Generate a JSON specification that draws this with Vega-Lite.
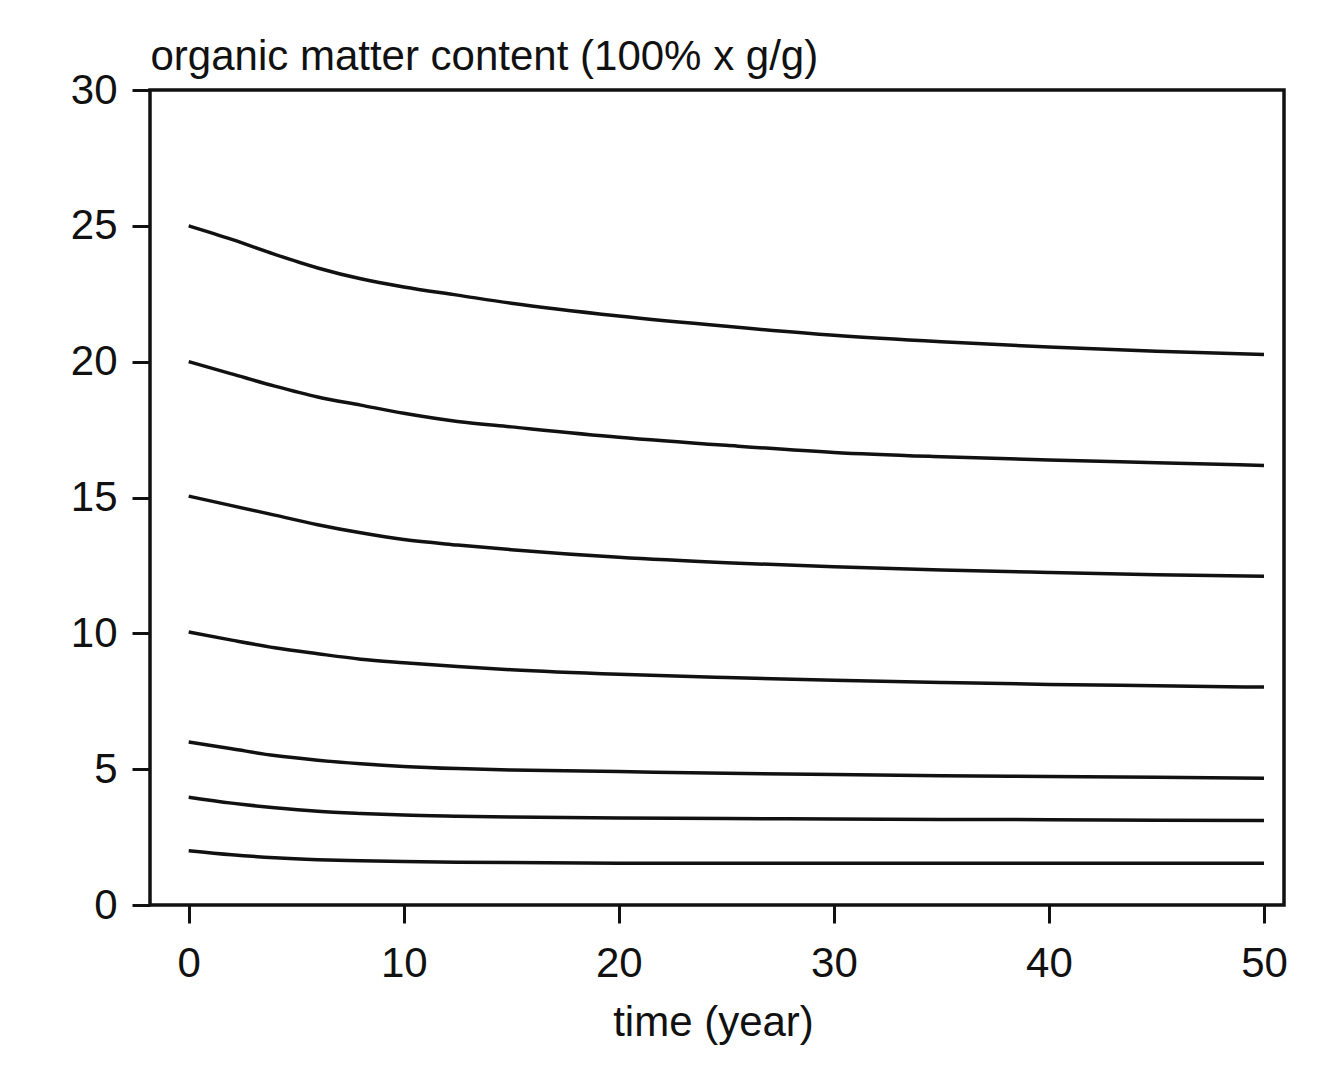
{
  "$schema": "https://vega.github.io/schema/vega-lite/v6.json",
  "width": 1134,
  "height": 815,
  "autosize": {"type": "none"},
  "padding": {"left": 150, "top": 90, "right": 56, "bottom": 169},
  "background": "white",
  "config": {
    "font": "Liberation Sans",
    "view": {"stroke": "#111", "strokeWidth": 3.5, "fill": "white"},
    "axis": {"grid": false, "domain": false, "tickColor": "#111", "tickWidth": 3, "labelColor": "#111", "titleColor": "#111", "labelFont": "Liberation Sans", "titleFont": "Liberation Sans", "labelFontSize": 42, "titleFontSize": 42, "titleFontWeight": "normal"}
  },
  "data": {"values": [
    {"s": "a", "t": 0, "v": 25.0}, {"s": "a", "t": 2, "v": 24.5}, {"s": "a", "t": 4, "v": 23.95}, {"s": "a", "t": 6, "v": 23.45}, {"s": "a", "t": 8, "v": 23.05}, {"s": "a", "t": 10, "v": 22.75}, {"s": "a", "t": 12.5, "v": 22.45}, {"s": "a", "t": 15, "v": 22.15}, {"s": "a", "t": 20, "v": 21.68}, {"s": "a", "t": 25, "v": 21.3}, {"s": "a", "t": 30, "v": 20.97}, {"s": "a", "t": 35, "v": 20.73}, {"s": "a", "t": 40, "v": 20.54}, {"s": "a", "t": 45, "v": 20.38}, {"s": "a", "t": 50, "v": 20.26},
    {"s": "b", "t": 0, "v": 20.0}, {"s": "b", "t": 2, "v": 19.55}, {"s": "b", "t": 4, "v": 19.1}, {"s": "b", "t": 6, "v": 18.7}, {"s": "b", "t": 8, "v": 18.4}, {"s": "b", "t": 10, "v": 18.1}, {"s": "b", "t": 12.5, "v": 17.8}, {"s": "b", "t": 15, "v": 17.6}, {"s": "b", "t": 20, "v": 17.22}, {"s": "b", "t": 25, "v": 16.92}, {"s": "b", "t": 30, "v": 16.66}, {"s": "b", "t": 35, "v": 16.5}, {"s": "b", "t": 40, "v": 16.38}, {"s": "b", "t": 45, "v": 16.28}, {"s": "b", "t": 50, "v": 16.18},
    {"s": "c", "t": 0, "v": 15.05}, {"s": "c", "t": 2, "v": 14.7}, {"s": "c", "t": 4, "v": 14.35}, {"s": "c", "t": 6, "v": 14.0}, {"s": "c", "t": 8, "v": 13.7}, {"s": "c", "t": 10, "v": 13.45}, {"s": "c", "t": 12.5, "v": 13.25}, {"s": "c", "t": 15, "v": 13.08}, {"s": "c", "t": 20, "v": 12.8}, {"s": "c", "t": 25, "v": 12.6}, {"s": "c", "t": 30, "v": 12.45}, {"s": "c", "t": 35, "v": 12.33}, {"s": "c", "t": 40, "v": 12.24}, {"s": "c", "t": 45, "v": 12.16}, {"s": "c", "t": 50, "v": 12.1},
    {"s": "d", "t": 0, "v": 10.05}, {"s": "d", "t": 2, "v": 9.75}, {"s": "d", "t": 4, "v": 9.47}, {"s": "d", "t": 6, "v": 9.25}, {"s": "d", "t": 8, "v": 9.05}, {"s": "d", "t": 10, "v": 8.92}, {"s": "d", "t": 12.5, "v": 8.78}, {"s": "d", "t": 15, "v": 8.66}, {"s": "d", "t": 20, "v": 8.49}, {"s": "d", "t": 25, "v": 8.37}, {"s": "d", "t": 30, "v": 8.27}, {"s": "d", "t": 35, "v": 8.19}, {"s": "d", "t": 40, "v": 8.12}, {"s": "d", "t": 45, "v": 8.07}, {"s": "d", "t": 50, "v": 8.02},
    {"s": "e", "t": 0, "v": 6.0}, {"s": "e", "t": 2, "v": 5.75}, {"s": "e", "t": 4, "v": 5.5}, {"s": "e", "t": 6, "v": 5.33}, {"s": "e", "t": 8, "v": 5.2}, {"s": "e", "t": 10, "v": 5.1}, {"s": "e", "t": 12.5, "v": 5.02}, {"s": "e", "t": 15, "v": 4.97}, {"s": "e", "t": 20, "v": 4.91}, {"s": "e", "t": 25, "v": 4.85}, {"s": "e", "t": 30, "v": 4.8}, {"s": "e", "t": 35, "v": 4.76}, {"s": "e", "t": 40, "v": 4.73}, {"s": "e", "t": 45, "v": 4.7}, {"s": "e", "t": 50, "v": 4.67},
    {"s": "f", "t": 0, "v": 3.97}, {"s": "f", "t": 2, "v": 3.75}, {"s": "f", "t": 4, "v": 3.58}, {"s": "f", "t": 6, "v": 3.45}, {"s": "f", "t": 8, "v": 3.37}, {"s": "f", "t": 10, "v": 3.31}, {"s": "f", "t": 12.5, "v": 3.27}, {"s": "f", "t": 15, "v": 3.24}, {"s": "f", "t": 20, "v": 3.2}, {"s": "f", "t": 25, "v": 3.18}, {"s": "f", "t": 30, "v": 3.17}, {"s": "f", "t": 35, "v": 3.15}, {"s": "f", "t": 40, "v": 3.14}, {"s": "f", "t": 45, "v": 3.12}, {"s": "f", "t": 50, "v": 3.11},
    {"s": "g", "t": 0, "v": 2.0}, {"s": "g", "t": 2, "v": 1.85}, {"s": "g", "t": 4, "v": 1.74}, {"s": "g", "t": 6, "v": 1.67}, {"s": "g", "t": 8, "v": 1.63}, {"s": "g", "t": 10, "v": 1.6}, {"s": "g", "t": 12.5, "v": 1.57}, {"s": "g", "t": 15, "v": 1.56}, {"s": "g", "t": 20, "v": 1.54}, {"s": "g", "t": 25, "v": 1.54}, {"s": "g", "t": 30, "v": 1.54}, {"s": "g", "t": 35, "v": 1.54}, {"s": "g", "t": 40, "v": 1.54}, {"s": "g", "t": 45, "v": 1.54}, {"s": "g", "t": 50, "v": 1.54}
  ]},
  "mark": {"type": "line", "color": "#111", "strokeWidth": 3.5, "interpolate": "monotone"},
  "encoding": {
    "x": {"field": "t", "type": "quantitative",
      "scale": {"domain": [-1.8, 50.93], "nice": false, "zero": false},
      "axis": {"values": [0, 10, 20, 30, 40, 50], "tickSize": 18, "labelPadding": 53, "labelBaseline": "alphabetic", "title": "time (year)", "titleX": 563, "titleY": 130, "titleBaseline": "alphabetic", "titleAlign": "center"}},
    "y": {"field": "v", "type": "quantitative",
      "scale": {"domain": [0, 30], "nice": false},
      "axis": {"values": [0, 5, 10, 15, 20, 25, 30], "tickSize": 18, "labelPadding": 15, "title": "organic matter content (100% x g/g)", "titleAngle": 0, "titleX": 0, "titleY": -21, "titleAlign": "left", "titleBaseline": "alphabetic"}},
    "detail": {"field": "s", "type": "nominal"}
  }
}
